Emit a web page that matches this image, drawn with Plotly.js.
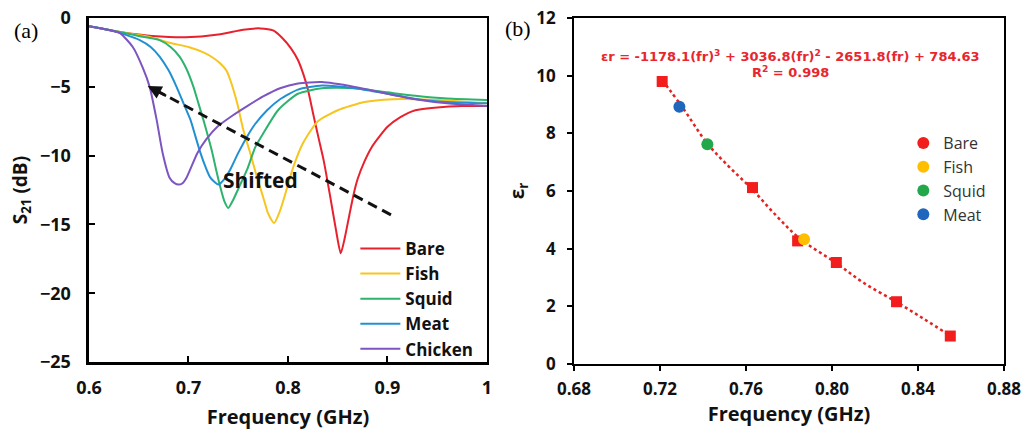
<!DOCTYPE html>
<html>
<head>
<meta charset="utf-8">
<script src="https://cdn.plot.ly/plotly-3.0.1.min.js"></script>
<style>html,body{margin:0;padding:0;background:#fff}#chart{width:1030px;height:430px}</style>
</head>
<body>
<div id="chart"></div>
<script>
// ---------- Panel (a): S21 spectra ----------
const bareF = [0.600,0.615,0.629,0.650,0.663,0.697,0.730,0.755,0.772,0.785,0.795,0.803,0.810,0.816,0.820,0.826,0.831,0.836,0.842,0.848,0.853,0.857,0.862,0.866,0.870,0.877,0.884,0.892,0.900,0.913,0.928,0.950,0.975,1.000];
const bareS = [-0.6,-0.8,-1.0,-1.2,-1.3,-1.4,-1.2,-0.85,-0.75,-0.9,-1.5,-2.2,-3.05,-4.2,-5.2,-7.2,-8.8,-10.4,-12.8,-15.3,-17.1,-16.0,-14.2,-12.8,-11.7,-10.4,-9.4,-8.6,-7.9,-7.2,-6.7,-6.5,-6.4,-6.4];

const fishF = [0.600,0.630,0.660,0.681,0.700,0.715,0.725,0.732,0.738,0.742,0.749,0.755,0.762,0.769,0.775,0.780,0.786,0.792,0.798,0.805,0.815,0.830,0.850,0.877,0.905,0.930,0.960,1.000];
const fishS = [-0.6,-1.0,-1.35,-1.8,-2.1,-2.5,-2.9,-3.3,-3.8,-4.5,-6.2,-8.1,-9.8,-11.6,-13.0,-14.2,-14.9,-14.0,-12.6,-10.9,-9.1,-7.5,-6.7,-6.1,-5.9,-5.9,-6.0,-6.2];

const squidF = [0.600,0.630,0.650,0.671,0.682,0.691,0.698,0.705,0.710,0.715,0.720,0.724,0.728,0.732,0.736,0.740,0.745,0.752,0.759,0.767,0.775,0.790,0.810,0.834,0.867,0.900,0.928,0.960,1.000];
const squidS = [-0.6,-1.0,-1.3,-1.6,-2.1,-2.8,-3.7,-5.0,-6.2,-7.4,-8.7,-9.8,-11.1,-12.3,-13.3,-13.8,-13.2,-12.1,-11.0,-9.4,-8.4,-6.7,-5.5,-5.1,-5.1,-5.4,-5.65,-5.85,-5.95];

const meatF = [0.600,0.625,0.651,0.662,0.671,0.680,0.688,0.695,0.702,0.707,0.712,0.717,0.722,0.730,0.736,0.742,0.750,0.759,0.767,0.779,0.792,0.810,0.834,0.867,0.900,0.930,0.960,1.000];
const meatS = [-0.6,-0.95,-1.6,-2.1,-2.8,-3.8,-5.0,-6.2,-7.4,-8.6,-9.8,-10.8,-11.6,-12.1,-11.7,-11.0,-9.8,-8.6,-7.7,-6.7,-5.9,-5.2,-4.9,-5.1,-5.5,-5.9,-6.1,-6.2];

const chickF = [0.600,0.615,0.631,0.644,0.654,0.661,0.668,0.674,0.681,0.686,0.690,0.694,0.698,0.709,0.718,0.729,0.744,0.759,0.775,0.792,0.810,0.834,0.867,0.900,0.928,0.960,1.000];
const chickS = [-0.6,-0.8,-1.1,-2.1,-3.6,-5.0,-7.4,-9.8,-11.6,-12.0,-12.1,-12.0,-11.6,-9.8,-8.8,-7.9,-7.1,-6.4,-5.7,-5.1,-4.75,-4.65,-5.0,-5.5,-5.9,-6.2,-6.4];

const seriesA = ["Bare","Fish","Squid","Meat","Chicken"];
const colorsA = ["#e8212e","#f7c51e","#2eb36e","#2190d3","#7c55c0"];

// shift arrow (tail -> head), annotation text
const arrowTail = [0.9035, -14.3];
const arrowHead = [0.659, -4.94];
const shiftedLabel = ["Shifted", 0.772, -11.8];

const xTicksA = [0.6,0.7,0.8,0.9,1];
const xTickTextA = ["0.6","0.7","0.8","0.9","1"];
const yTicksA = [0,-5,-10,-15,-20,-25];

// ---------- Panel (b): permittivity vs resonant frequency ----------
const bareFr  = [0.721,0.763,0.784,0.802,0.830,0.855];
const bareEr  = [9.80,6.12,4.27,3.52,2.16,0.97];
const fishFr  = [0.787]; const fishEr  = [4.33];
const squidFr = [0.742]; const squidEr = [7.62];
const meatFr  = [0.729]; const meatEr  = [8.92];
const trendFr = [0.721,0.730,0.742,0.752,0.763,0.774,0.785,0.802,0.815,0.830,0.843,0.855];
const trendEr = [9.85,8.95,7.65,6.85,6.05,5.15,4.35,3.50,2.80,2.15,1.55,0.98];
const seriesB = ["Bare","Fish","Squid","Meat"];
const colorsB = ["#f21d1d","#ffbf00","#22a84a","#1f67bd"];
const xTicksB = [0.68,0.72,0.76,0.80,0.84,0.88];
const xTickTextB = ["0.68","0.72","0.76","0.80","0.84","0.88"];
const yTicksB = [0,2,4,6,8,10,12];
const equationLine1 = "εr = -1178.1(fr)<sup>3</sup> + 3036.8(fr)<sup>2</sup> - 2651.8(fr) + 784.63";
const equationLine2 = "R<sup>2</sup> = 0.998";

const FONT = "Open Sans, Noto Sans, DejaVu Sans, sans-serif";
const EQFONT = "DejaVu Sans, Open Sans, sans-serif";
const boldFont = (s, c) => ({family: FONT, size: s, color: c || "#111", weight: 700});

const xsA = [bareF, fishF, squidF, meatF, chickF];
const ysA = [bareS, fishS, squidS, meatS, chickS];
const traces = [];
seriesA.forEach((name, i) => {
  traces.push({
    x: xsA[i], y: ysA[i], name: name, type: "scatter", mode: "lines",
    line: {color: colorsA[i], width: 2, shape: "spline", smoothing: 0.6},
    xaxis: "x", yaxis: "y", legend: "legend", legendgroup: "a" + i
  });
});

// panel b trend line
traces.push({x: trendFr, y: trendEr, type: "scatter", mode: "lines", showlegend: false,
  line: {color: "#e32222", width: 2.5, dash: "dot", shape: "spline"}, xaxis: "x2", yaxis: "y2"});
// bare squares (data) + legend proxy circle
traces.push({x: bareFr, y: bareEr, type: "scatter", mode: "markers", showlegend: false, name: "Bare",
  marker: {symbol: "square", size: 11, color: colorsB[0]}, xaxis: "x2", yaxis: "y2"});
const ptsB = [[fishFr, fishEr], [squidFr, squidEr], [meatFr, meatEr]];
ptsB.forEach((p, k) => {
  traces.push({x: p[0], y: p[1], type: "scatter", mode: "markers", showlegend: false, name: seriesB[k+1],
    marker: {symbol: "circle", size: 12, color: colorsB[k+1]}, xaxis: "x2", yaxis: "y2"});
});
seriesB.forEach((name, k) => {
  traces.push({x: [null], y: [null], type: "scatter", mode: "markers", name: name,
    marker: {symbol: "circle", size: 12, color: colorsB[k]}, xaxis: "x2", yaxis: "y2",
    legend: "legend2", legendgroup: "b" + k});
});

const layout = {
  width: 1030, height: 430, margin: {l: 0, r: 0, t: 0, b: 0},
  paper_bgcolor: "#fff", plot_bgcolor: "#fff", showlegend: true,
  xaxis: {domain: [0.0864, 0.4728], range: [0.6, 1], tickvals: xTicksA, ticktext: xTickTextA,
    ticks: "inside", ticklen: 6, tickwidth: 2, tickcolor: "#000", showgrid: false, zeroline: false,
    showline: true, linecolor: "#000", linewidth: 2.5, mirror: true, anchor: "y",
    tickfont: boldFont(18), ticklabelstandoff: 8,
    title: {text: "Frequency (GHz)", font: boldFont(20), standoff: 18}},
  yaxis: {domain: [0.158, 0.958], range: [-25, 0], tickvals: yTicksA,
    ticks: "inside", ticklen: 6, tickwidth: 2, tickcolor: "#000", showgrid: false, zeroline: false,
    showline: true, linecolor: "#000", linewidth: 2.5, mirror: true, anchor: "x",
    tickfont: boldFont(18), ticklabelstandoff: 12,
    title: {text: "S<sub>21</sub> (dB)", font: boldFont(19), standoff: 8}},
  xaxis2: {domain: [0.5573, 0.9748], range: [0.68, 0.88], tickvals: xTicksB, ticktext: xTickTextB,
    ticks: "outside", ticklen: 5, tickwidth: 2, tickcolor: "#000", showgrid: false, zeroline: false,
    showline: true, linecolor: "#000", linewidth: 2, mirror: true, anchor: "y2",
    tickfont: boldFont(17), ticklabelstandoff: 4,
    title: {text: "Frequency (GHz)", font: boldFont(20), standoff: 0}},
  yaxis2: {domain: [0.1535, 0.958], range: [0, 12], tickvals: yTicksB,
    ticks: "outside", ticklen: 5, tickwidth: 2, tickcolor: "#000", showgrid: false, zeroline: false,
    showline: true, linecolor: "#000", linewidth: 2, mirror: true, anchor: "x2",
    tickfont: boldFont(17), ticklabelstandoff: 8,
    title: {text: "ε<sub>r</sub>", font: boldFont(19), standoff: 7}},
  legend: {x: 0.345, y: 0.463, xanchor: "left", yanchor: "top", bgcolor: "rgba(0,0,0,0)",
    font: boldFont(17), tracegroupgap: 0, itemwidth: 40},
  legend2: {x: 0.877, y: 0.707, xanchor: "left", yanchor: "top", bgcolor: "rgba(0,0,0,0)",
    font: {family: FONT, size: 16, color: "#333"}, tracegroupgap: 0, itemwidth: 30},
  shapes: [
    {type: "line", xref: "x", yref: "y", x0: arrowTail[0], y0: arrowTail[1], x1: arrowHead[0] + 0.008, y1: arrowHead[1] - 0.3,
     line: {color: "#111", width: 3, dash: "10px,6px"}}
  ],
  annotations: [
    {xref: "x", yref: "y", x: arrowHead[0], y: arrowHead[1], axref: "x", ayref: "y",
     ax: arrowHead[0] + 0.02, ay: arrowHead[1] - 0.77, text: "", showarrow: true,
     arrowhead: 2, arrowsize: 1.1, arrowwidth: 2.5, arrowcolor: "#111"},
    {xref: "x", yref: "y", x: shiftedLabel[1], y: shiftedLabel[2], text: shiftedLabel[0],
     showarrow: false, font: boldFont(21, "#111")},
    {xref: "x2", yref: "y2", x: 0.7805, y: 10.67, text: equationLine1, showarrow: false,
     font: {family: EQFONT, size: 13, color: "#e8262e", weight: 700}},
    {xref: "x2", yref: "y2", x: 0.7805, y: 10.12, text: equationLine2, showarrow: false,
     font: {family: EQFONT, size: 13, color: "#e8262e", weight: 700}},
    {xref: "paper", yref: "paper", x: 12/1030, y: 1 - 30/430, xanchor: "left", yanchor: "middle",
     text: "(a)", showarrow: false, font: {family: "Liberation Serif, Times New Roman, serif", size: 22, color: "#000"}},
    {xref: "paper", yref: "paper", x: 503/1030, y: 1 - 28/430, xanchor: "left", yanchor: "middle",
     text: "(b)", showarrow: false, font: {family: "Liberation Serif, Times New Roman, serif", size: 22, color: "#000"}}
  ]
};

Plotly.newPlot("chart", traces, layout, {staticPlot: true, displayModeBar: false});
</script>
</body>
</html>
